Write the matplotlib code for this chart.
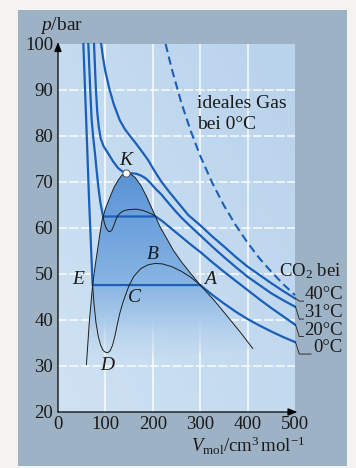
import numpy as np
import matplotlib
matplotlib.use('Agg')
import matplotlib.pyplot as plt
from matplotlib.patches import Rectangle, Polygon
from matplotlib.colors import LinearSegmentedColormap

plt.rcParams['font.family'] = ['Liberation Serif', 'DejaVu Serif']
plt.rcParams['mathtext.fontset'] = 'custom'
plt.rcParams['mathtext.rm'] = 'Liberation Serif'
plt.rcParams['mathtext.it'] = 'Liberation Serif:italic'

# ---------------- data ----------------
x_ticks = [0, 100, 200, 300, 400, 500]
y_ticks = [20, 30, 40, 50, 60, 70, 80, 90, 100]

iso_0_V = [53.5, 59.4, 65.6, 73, 300, 325, 350, 375, 400, 425, 450, 475, 500]
iso_0_p = [100, 83.6, 66, 47.6, 47.6, 45.5, 43.6, 41.8, 40.2, 38.8, 37.5, 36.3, 35.2]

iso_20_V = [64, 66, 68, 71, 74.5, 78, 81.5, 85, 89.5, 95, 206, 220, 240, 260, 280, 300,
            325, 350, 375, 400, 425, 450, 475, 500]
iso_20_p = [100, 95, 90, 83.5, 79.5, 76.2, 72.5, 69, 65.5, 62.5, 62.5, 61.5, 59.8, 58.1, 56.4, 54.8,
            52.6, 50.5, 48.5, 46.5, 44.5, 42.6, 40.8, 39.0]

iso_31_V = [76, 78, 80, 83, 86, 90, 96, 106, 116, 127, 136, 143.5, 155, 165, 175, 185, 195, 205,
            218, 230, 245, 260, 280, 300, 325, 350, 375, 400, 425, 450, 475, 500]
iso_31_p = [100, 95, 90, 85, 82, 79.5, 77.8, 76.2, 74.5, 73, 72.3, 72, 71.9, 71.8, 71.4, 70.8, 69.8, 68.6,
            67.3, 65.8, 64, 62.3, 60.3, 58.4, 56, 53.7, 51.5, 49.4, 47.6, 45.8, 44.3, 42.9]

iso_40_V = [91, 95, 100, 109, 118, 130, 141, 152, 165, 178, 190, 203, 218, 235, 255, 275, 300,
            325, 350, 375, 400, 425, 450, 475, 500]
iso_40_p = [100, 97, 94, 90, 86.8, 83.5, 81.5, 80, 78.3, 76.5, 74.8, 72.5, 70.1, 67.8, 65.3, 62.8, 60.6,
            58.2, 56, 53.7, 51.6, 49.8, 48, 46.3, 44.7]

ideal_V = [227, 240, 260, 280, 300, 325, 350, 375, 400, 425, 450, 475, 500]
ideal_p = [100, 94.6, 87.3, 81.1, 75.7, 69.9, 64.9, 60.6, 56.8, 53.4, 50.5, 47.8, 45.4]

dome_V = [60, 66, 73, 78, 83, 88, 93, 100, 110, 118, 127, 135, 143.5, 152, 162.5, 175, 187, 200,
          215, 230, 243, 260, 280, 300, 330, 358, 385, 411]
dome_p = [30.3, 39.5, 47.6, 51.5, 55, 58.5, 61.7, 64.2, 66.8, 68.8, 70.4, 71.5, 72, 71.8, 71, 69.2, 66.8, 63.8,
          60.3, 57.6, 55.2, 52.7, 50.1, 47.6, 44.2, 40.7, 37.3, 33.8]

loop0_V = [73, 76, 80, 85, 90, 95, 100, 105, 110, 115, 120, 125, 130, 136, 142, 150, 160, 175, 190,
           205, 220, 240, 260, 280, 300]
loop0_p = [47.6, 43.5, 39.5, 36.4, 34.5, 33.4, 33.0, 32.9, 33.3, 34.5, 36.5, 39, 41.3, 43.5, 45.3, 47.5,
           49.5, 51.2, 52.0, 52.3, 52.2, 51.6, 50.6, 49.3, 47.6]

loop20_V = [95, 98, 102, 106, 110, 114, 118, 122, 127, 133, 140, 150, 165, 180, 192, 200, 206]
loop20_p = [62.5, 61, 59.9, 59.3, 59.2, 59.6, 60.6, 61.8, 62.8, 63.4, 63.8, 64, 64.1, 63.8, 63.3, 62.9, 62.5]

crit_V, crit_p = 143.5, 72.0

point_labels = ['K', 'B', 'A', 'C', 'D', 'E']
point_label_V = [143, 200, 320, 162, 104, 42.5]
point_label_p = [74.6, 54.3, 48.7, 44.9, 30.0, 48.8]

temp_labels = ['40°C', '31°C', '20°C', '0°C']
temp_label_p = [45.5, 41.6, 37.8, 34.0]
temp_end_p = [44.7, 42.9, 39.0, 35.2]

# ---------------- figure ----------------
W, H = 356, 468
fig = plt.figure(figsize=(W / 100, H / 100), dpi=100)
fig.patch.set_facecolor('#f5f3ef')
fig.patches.append(Rectangle((18 / W, 2 / H), (347 - 18) / W, (458 - 2) / H, transform=fig.transFigure,
                             facecolor='#9eb2c6', edgecolor='none', zorder=-5))

ax = fig.add_axes([58 / W, (H - 412) / H, 237 / W, 368 / H])
ax.set_zorder(2)
ax.set_xlim(0, 500)
ax.set_ylim(20, 100)
for s in ax.spines.values():
    s.set_visible(False)

# plot-area background gradient
bg_cmap = LinearSegmentedColormap.from_list('bg', ['#cfe2f3', '#b9d3ec'])
gx, gy = np.meshgrid(np.linspace(0, 1, 64), np.linspace(0, 1, 64))
ax.imshow(0.55 * gx + 0.45 * gy, extent=[0, 500, 20, 100], origin='lower', aspect='auto',
          cmap=bg_cmap, zorder=0, interpolation='bilinear')

# grid
for xv in x_ticks[1:-1]:
    ax.axvline(xv, color='white', lw=1.1, alpha=0.9, zorder=1)
for yv in y_ticks[1:-1]:
    ax.axhline(yv, color='white', lw=1.1, alpha=0.9, ls=(0, (6, 1.5)), zorder=1)

# dome fill with vertical gradient fading out towards the bottom
dome_cmap = LinearSegmentedColormap.from_list(
    'dome', [(0.0, (0.77, 0.855, 0.94, 0.0)), (0.24, '#a9caeb'), (0.42, '#88b5e3'),
             (0.71, '#6fa3dd'), (1.0, '#5a93d5')])
grad = np.linspace(0, 1, 256).reshape(-1, 1)
im = ax.imshow(grad, extent=[min(dome_V), max(dome_V), 30, 72], origin='lower', aspect='auto',
               cmap=dome_cmap, zorder=2, interpolation='bilinear')
poly = Polygon(np.column_stack([dome_V, dome_p]), closed=True, transform=ax.transData)
im.set_clip_path(poly)

blue = '#1a5fb8'
for V, p in [(iso_0_V, iso_0_p), (iso_20_V, iso_20_p), (iso_31_V, iso_31_p), (iso_40_V, iso_40_p)]:
    ax.plot(V, p, color=blue, lw=1.6, zorder=4, solid_joinstyle='round', clip_on=False)
ax.plot(ideal_V, ideal_p, color=blue, lw=1.5, ls=(0, (4, 2.2)), zorder=4, clip_on=False)

thin = '#1e1e1e'
ax.plot(dome_V, dome_p, color=thin, lw=0.7, zorder=5)
ax.plot(loop0_V, loop0_p, color=thin, lw=0.7, zorder=5)
ax.plot(loop20_V, loop20_p, color=thin, lw=0.7, zorder=5)

ax.plot([crit_V], [crit_p], marker='o', ms=5.2, mfc='white', mec='#555555', mew=0.7, zorder=6)

for lab, V, p in zip(point_labels, point_label_V, point_label_p):
    ax.text(V, p, lab, fontsize=14, style='italic', ha='center', va='center', color='#1a1a1a', zorder=7)

ax.text(294, 87.1, 'ideales Gas', fontsize=14, ha='left', va='center', color='#1a1a1a')
ax.text(294, 82.5, 'bei 0°C', fontsize=14, ha='left', va='center', color='#1a1a1a')

ax.text(466, 50.6, r'CO$_2$ bei', fontsize=13.5, ha='left', va='center', color='#1a1a1a', clip_on=False)
for lab, pl, pe in zip(temp_labels, temp_label_p, temp_end_p):
    ax.text(601, pl, lab, fontsize=13.5, ha='right', va='center', color='#1a1a1a', clip_on=False)
    base = pl - 1.4
    xs = 518 if lab != '0°C' else 534
    ax.plot([501, 509, xs], [pe, base, base], color=thin, lw=0.6, clip_on=False, zorder=5)

# axes with arrows
ax.annotate('', xy=(0, 1.005), xytext=(0, 0), xycoords='axes fraction',
            arrowprops=dict(arrowstyle='-|>,head_length=0.55,head_width=0.22', color='black', lw=0.9,
                            shrinkA=0, shrinkB=0), zorder=8)
ax.annotate('', xy=(1.01, 0), xytext=(0, 0), xycoords='axes fraction',
            arrowprops=dict(arrowstyle='-|>,head_length=0.55,head_width=0.22', color='black', lw=0.9,
                            shrinkA=0, shrinkB=0), zorder=8)

ax.set_xticks(x_ticks)
ax.set_yticks(y_ticks)
ax.set_xticklabels([str(v) for v in x_ticks])
ax.set_yticklabels([str(v) for v in y_ticks])
ax.tick_params(length=0, labelsize=13.5, labelcolor='#1a1a1a')
ax.tick_params(axis='y', pad=3.5)
ax.tick_params(axis='x', pad=3)

ax.text(-0.076, 1.0516, r'$p$/bar', transform=ax.transAxes, fontsize=14, ha='left', va='center',
        color='#1a1a1a')
ax.text(1.042, -0.092, r'$V_{\mathrm{mol}}$/cm$^3\,$mol$^{-1}$', transform=ax.transAxes, fontsize=13.5,
        ha='right', va='center', color='#1a1a1a')

fig.savefig('out.png', dpi=100)
